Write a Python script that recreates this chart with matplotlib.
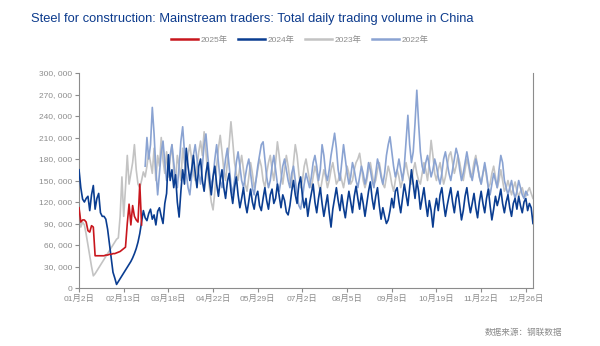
import numpy as np
import matplotlib.pyplot as plt

plt.rcParams['font.family'] = ['Liberation Sans', 'Noto Sans CJK SC', 'DejaVu Sans']

# tick labels every 25 trading days, 255 categories in total
n_days = 255
tick_step = 25
x_labels = ['01月2日', '02月13日', '03月18日', '04月22日', '05月29日', '07月2日',
            '08月5日', '09月8日', '10月19日', '11月22日', '12月26日']

# values in thousand tons
v2025 = [112, 92, 95, 95, 92, 80, 78, 87, 85, 45,
         45, 45, 45, 45, 45, 46, 46, 47, 47, 48,
         48, 49, 50, 51, 53, 55, 57, 90, 117, 88,
         115, 100, 95, 92, 145, 88]

v2024 = [165, 140, 124, 120, 125, 128, 108, 130, 143, 110,
         125, 132, 105, 100, 100, 96, 82, 62, 42, 22,
         14, 5, 9, 13, 17, 21, 25, 29, 33, 37,
         42, 48, 55, 64, 76, 92, 108, 98, 94, 104,
         110, 96, 102, 88, 107, 112, 100, 90, 118, 132,
         186, 150, 165, 140, 158, 120, 99, 135, 165, 145,
         195, 170, 150, 165, 185, 160, 140, 170, 180, 150,
         135, 160, 175, 150, 130, 155, 170, 145, 128, 150,
         165, 140, 125, 148, 160, 135, 118, 140, 155, 130,
         112, 125, 140, 118, 105, 122, 138, 120, 110, 128,
         135, 115, 108, 125, 140, 122, 110, 130, 138, 118,
         125, 145, 128, 112, 130, 122, 106, 102, 115, 135,
         150, 130, 118, 145, 155, 128, 112, 125, 100, 118,
         132, 145, 120, 105, 125, 140, 118, 100, 115, 130,
         105, 85, 110, 125, 140, 122, 108, 130, 112, 98,
         118, 135, 120, 105, 128, 142, 125, 110, 132, 118,
         100, 118, 135, 148, 125, 110, 128, 140, 115, 96,
         112, 100, 90, 95, 108, 125, 112, 135, 140, 120,
         105, 125, 145, 130, 115, 140, 165, 145, 125, 150,
         135, 110, 125, 140, 118, 100, 122, 108, 85, 110,
         125, 108, 130, 140, 118, 100, 115, 128, 140, 120,
         105, 125, 135, 115, 95, 108, 128, 140, 120, 105,
         118, 132, 112, 98, 120, 135, 118, 105, 125, 138,
         115, 95, 110, 128, 115, 125, 138, 118, 105, 120,
         130, 112, 100, 118, 125, 110, 128, 115, 105, 120,
         125, 108, 118, 112, 90]

v2023 = [110, 85, 92, 88, 75, 60, 45, 30, 17, 20,
         24, 28, 32, 36, 40, 44, 48, 52, 56, 60,
         64, 68, 70, 100, 155, 100, 140, 185, 145, 160,
         175, 200, 165, 145, 140, 150, 162, 155, 170, 190,
         175, 160, 195, 150, 185, 170, 210, 178, 160, 190,
         155, 180, 200, 165, 148, 185, 170, 150, 195, 175,
         165, 185, 200, 180, 160, 150, 170, 190, 205, 185,
         218, 190, 160, 140, 120, 109, 135, 170, 195, 213,
         190, 165, 150, 175, 200, 232, 205, 175, 160, 150,
         170, 185, 165, 145, 135, 155, 175, 160, 140, 150,
         165, 180, 170, 150, 140, 160, 175, 185, 165, 150,
         175, 204, 185, 160, 145, 165, 185, 170, 150, 140,
         175, 200, 185, 160, 140, 150, 170, 180, 165, 150,
         140, 155, 170, 160, 145, 135, 150, 165, 155, 140,
         150, 165, 175, 160, 145, 150, 160, 150, 140, 155,
         170, 160, 145, 150, 165, 175, 180, 188, 170, 150,
         140, 150, 165, 175, 160, 145, 150, 165, 175, 160,
         145, 140, 155, 170, 160, 145, 135, 150, 165, 155,
         140, 150, 165, 175, 160, 150, 145, 165, 175, 160,
         150, 145, 160, 175, 165, 150, 175, 206, 185, 160,
         150, 165, 175, 160, 145, 155, 170, 185, 190, 175,
         160, 170, 185, 175, 160, 150, 165, 180, 170, 155,
         160, 175, 185, 170, 155, 145, 160, 170, 155, 140,
         145, 160, 170, 155, 140, 150, 165, 150, 135, 140,
         150, 140, 130, 140, 148, 135, 128, 135, 140, 130,
         128, 135, 140, 132, 125]

# 2022 starts on day 37
start2022 = 37
v2022 = [170, 210, 180,
         200, 252, 215, 165, 130, 160, 190, 205, 175, 150,
         160, 185, 200, 175, 150, 140, 170, 205, 225, 190,
         160, 140, 130, 155, 185, 200, 180, 160, 145, 170,
         200, 215, 185, 160, 140, 155, 180, 200, 175, 150,
         140, 160, 180, 195, 170, 145, 130, 150, 175, 190,
         170, 150, 140, 155, 170, 180, 160, 140, 130, 150,
         170, 185, 200, 204, 180, 155, 140, 150, 170, 185,
         165, 145, 135, 150, 170, 180, 165, 150, 140, 160,
         170, 150, 130, 115, 110, 125, 145, 160, 150, 140,
         155, 175, 185, 170, 150, 165, 200, 185, 160, 150,
         165, 185, 200, 216, 195, 165, 150, 175, 200, 180,
         160, 145, 155, 175, 165, 150, 140, 155, 170, 160,
         145, 155, 175, 165, 150, 140, 160, 180, 170, 155,
         145, 160, 185, 200, 211, 190, 170, 155, 165, 180,
         165, 150, 170, 205, 241, 200, 175, 190, 230, 276,
         230, 190, 170, 160, 175, 185, 170, 155, 165, 180,
         170, 155, 145, 160, 180, 190, 175, 160, 150, 165,
         180, 195, 185, 165, 150, 160, 175, 190, 175, 160,
         150, 165, 180, 170, 155, 145, 160, 175, 160, 140,
         130, 145, 160, 150, 140, 165, 185, 175, 150, 140,
         130, 140, 150, 135, 125, 135, 150, 140, 130, 125,
         135, 130]

c2025 = '#c8161d'
c2024 = '#0a3d91'
c2023 = '#c3c3c3'
c2022 = '#8aa3d2'
grey = '#8c8c8c'

fig = plt.figure(figsize=(6, 3.46), dpi=100)
ax = fig.add_axes([0.1317, 0.1676, 0.7566, 0.6214])

x2022 = np.arange(start2022, start2022 + len(v2022))
lw = 1.2
ax.plot(np.arange(len(v2023)), np.array(v2023) * 1000, color=c2023, lw=lw, label='2023年', zorder=2)
ax.plot(x2022, np.array(v2022) * 1000, color=c2022, lw=lw, label='2022年', zorder=3)
ax.plot(np.arange(len(v2024)), np.array(v2024) * 1000, color=c2024, lw=lw, label='2024年', zorder=4)
ax.plot(np.arange(len(v2025)), np.array(v2025) * 1000, color=c2025, lw=lw, label='2025年', zorder=5)

ax.set_xlim(0, n_days - 1)
ax.set_ylim(0, 300000)
yt = np.arange(0, 300001, 30000)
ax.set_yticks(yt)
ax.set_yticklabels(['0' if v == 0 else '{:,}'.format(v).replace(',', ', ') for v in yt])
ax.set_xticks(np.arange(0, n_days, tick_step))
ax.set_xticklabels(x_labels)

for s in ['left', 'bottom', 'right']:
    ax.spines[s].set_color(grey)
    ax.spines[s].set_linewidth(0.8)
ax.spines['top'].set_visible(False)
ax.tick_params(colors=grey, labelsize=6, length=3, width=0.8, pad=2)

handles, labels = ax.get_legend_handles_labels()
order = [3, 2, 0, 1]
leg = fig.legend([handles[i] for i in order], [labels[i] for i in order],
                 loc='center', bbox_to_anchor=(0.5, 0.885), ncol=4, frameon=False,
                 fontsize=6, handlelength=3.2, handletextpad=0.4, columnspacing=1.2)
for t in leg.get_texts():
    t.set_color(grey)
for l in leg.get_lines():
    l.set_linewidth(1.8)

fig.text(0.052, 0.945, 'Steel for construction: Mainstream traders: Total daily trading volume in China',
         fontsize=9.3, color='#0b3a8c', ha='left', va='center')
fig.text(0.938, 0.04, '数据来源：钢联数据', fontsize=6.2, color=grey, ha='right', va='center',
         family=['Noto Sans CJK SC', 'DejaVu Sans'])

fig.savefig('out.png', dpi=100)
